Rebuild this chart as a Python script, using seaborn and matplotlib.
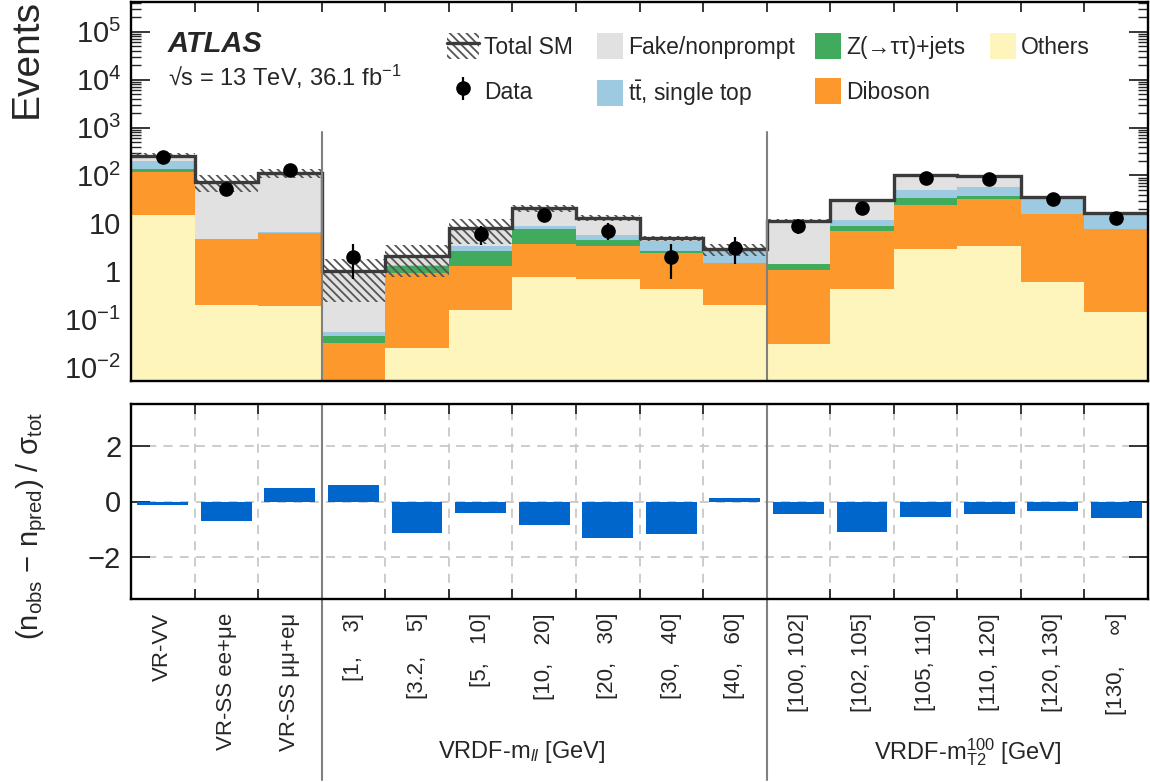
import numpy as np
import matplotlib
matplotlib.use('Agg')
import matplotlib.pyplot as plt
import matplotlib.transforms as mtransforms
from matplotlib.patches import Patch
from matplotlib.lines import Line2D
from matplotlib.ticker import LogLocator, NullFormatter
import seaborn as sns

# ---- data ----
bin_labels = ['VR-VV', 'VR-SS ee+μe', 'VR-SS μμ+eμ',
              '[1,    3]', '[3.2,    5]', '[5,   10]', '[10,   20]', '[20,   30]', '[30,   40]', '[40,   60]',
              '[100, 102]', '[102, 105]', '[105, 110]', '[110, 120]', '[120, 130]', '[130,     ∞]']

others = [15, 0.2, 0.19, 0.003, 0.025, 0.155, 0.77, 0.68, 0.43, 0.2, 0.03, 0.42, 2.97, 3.4, 0.6, 0.14]
diboson = [102, 4.5, 6.2, 0.029, 0.905, 1.155, 2.93, 2.72, 1.97, 1.27, 1.04, 6.48, 21.6, 29.1, 14.9, 7.56]
ztautau = [20, 0.03, 0.05, 0.012, 0.38, 1.39, 3.9, 1.1, 0.25, 0.02, 0.33, 2.1, 8.9, 5.0, 0.1, 0.05]
ttbar = [63, 0.05, 0.1, 0.01, 0.05, 0.7, 1.2, 1.2, 1.55, 1.35, 0.05, 3.0, 16.5, 20.5, 19.3, 8.5]
fakes = [60, 69, 106.5, 0.976, 0.76, 4.7, 11.9, 7.5, 0.7, 0.06, 9.95, 18.5, 53, 40, 0.2, 0.1]
sm_unc = [30, 29, 24, 0.8, 1.35, 4.4, 3.3, 2.0, 0.6, 0.8, 1.2, 2.5, 5, 5, 2, 1.2]

data = [248, 52, 129, 2, 0, 6, 15, 7, 2, 3, 9, 21, 90, 86, 32, 13]
data_err_lo = [16, 7, 11, 1.3, 0, 2.5, 3.8, 2.6, 1.3, 1.6, 2.9, 4.5, 9.5, 9.3, 5.6, 3.6]
data_err_hi = [16, 8, 12, 1.7, 0, 2.8, 4.3, 3.0, 1.7, 2.1, 3.4, 5.0, 10, 9.8, 6.1, 4.1]

significance = [-0.14, -0.71, 0.50, 0.61, -1.14, -0.42, -0.85, -1.32, -1.18, 0.11,
                -0.46, -1.10, -0.56, -0.46, -0.35, -0.60]

ytick_vals = [1e-2, 1e-1, 1, 10, 1e2, 1e3, 1e4, 1e5]
ytick_labels = ['$10^{-2}$', '$10^{-1}$', '1', '10', '$10^{2}$', '$10^{3}$', '$10^{4}$', '$10^{5}$']

group_labels = [r'VRDF-m$_{ll}$ [GeV]', r'VRDF-m$_{\rm T2}^{100}$ [GeV]']

# ---- style ----
sns.set_theme(style='ticks')
plt.rcParams['font.family'] = ['Liberation Sans', 'DejaVu Sans']
plt.rcParams['mathtext.fontset'] = 'custom'
plt.rcParams['mathtext.rm'] = 'Liberation Sans'
plt.rcParams['mathtext.it'] = 'Liberation Sans:italic'
plt.rcParams['mathtext.bf'] = 'Liberation Sans:bold'
plt.rcParams['mathtext.sf'] = 'Liberation Sans'
plt.rcParams['hatch.linewidth'] = 1.3
plt.rcParams['axes.linewidth'] = 1.7
plt.rcParams['axes.edgecolor'] = 'black'

c_others = '#fef5bd'
c_dib = '#fd992c'
c_ztt = '#41ab5d'
c_tt = '#9ecae1'
c_fake = '#e1e1e1'
c_sep = '#808080'

W, H = 1150, 782
fig = plt.figure(figsize=(W / 100, H / 100), dpi=100)
ax = fig.add_axes([131 / W, 1 - 381 / H, 1017 / W, 379 / H])
axr = fig.add_axes([131 / W, 1 - 599 / H, 1017 / W, 195 / H])

n = len(bin_labels)
centers = np.arange(n)
edges = np.arange(n + 1) - 0.5

# ---- stacked backgrounds ----
base = np.full(n, 1e-4)
for vals, col in [(others, c_others), (diboson, c_dib), (ztautau, c_ztt), (ttbar, c_tt), (fakes, c_fake)]:
    top = base + np.array(vals)
    ax.stairs(top, edges, baseline=base, fill=True, color=col, lw=0)
    base = top
total = base - 1e-4
unc = np.array(sm_unc)
ax.stairs(total + unc, edges, baseline=np.clip(total - unc, 1e-4, None), fill=True,
          facecolor='none', edgecolor='#555555', hatch='\\\\\\\\', lw=0)
ax.stairs(total, edges, baseline=None, color='#3a3a3a', lw=2.4)

d = np.array(data, dtype=float)
mask = d > 0
dat = ax.errorbar(centers[mask], d[mask],
                  yerr=[np.array(data_err_lo)[mask], np.array(data_err_hi)[mask]],
                  fmt='o', color='black', ms=9.5, elinewidth=1.6, capsize=0)

ax.set_yscale('log')
ax.set_ylim(5.1e-3, 4.2e5)
ax.set_xlim(-0.5, n - 0.5)
for xs in [2.5, 9.5]:
    ax.axvline(xs, ymax=0.657, color=c_sep, lw=1.5)

ax.set_xticks(edges)
ax.tick_params(axis='x', which='major', direction='in', length=7, width=1.3,
               top=True, bottom=True, labelbottom=False)
ax.tick_params(axis='x', which='minor', length=0)
ax.set_yticks(ytick_vals, ytick_labels)
ax.yaxis.set_minor_locator(LogLocator(base=10, subs=np.arange(2, 10), numticks=20))
ax.yaxis.set_minor_formatter(NullFormatter())
ax.tick_params(axis='y', which='major', direction='in', length=14, width=1.3,
               left=True, right=True, labelsize=21, pad=7)
ax.tick_params(axis='y', which='minor', direction='in', length=7, width=1.0,
               left=True, right=True)

fig.text(27 / W, 1 - 118 / H, 'Events', rotation=90, ha='center', va='bottom', fontsize=28)
fig.text(168 / W, 1 - 52 / H, 'ATLAS', fontsize=21, fontweight='bold', fontstyle='italic')
fig.text(168 / W, 1 - 86 / H, r'√s = 13 TeV, 36.1 fb$^{-1}$', fontsize=17)

# ---- legend (four columns placed by hand) ----
def add_legend(handles, labels, x_px, hl):
    fig.legend(handles, labels, loc='upper left',
               bbox_to_anchor=(x_px / W, 1 - 33 / H), bbox_transform=fig.transFigure,
               frameon=False, fontsize=16.5, handlelength=hl, handleheight=1.35,
               handletextpad=0.2, labelspacing=0.85, borderpad=0, borderaxespad=0)

sm_handle = (Patch(facecolor='none', edgecolor='#555555', hatch='\\\\\\\\', lw=0),
             Line2D([], [], color='#3a3a3a', lw=2.4))
add_legend([sm_handle, dat], ['Total SM', 'Data'], 447, 1.4)
add_legend([Patch(color=c_fake, lw=0), Patch(color=c_tt, lw=0)],
           ['Fake/nonprompt', r't$\bar{\rm t}$, single top'], 597, 1.15)
add_legend([Patch(color=c_ztt, lw=0), Patch(color=c_dib, lw=0)],
           ['Z(→ττ)+jets', 'Diboson'], 815, 1.15)
add_legend([Patch(color=c_others, lw=0)], ['Others'], 990, 1.15)

# ---- significance panel ----
sns.barplot(x=centers, y=significance, ax=axr, color='#0066cc', saturation=1,
            width=0.8, errorbar=None, linewidth=0)
axr.set_xlim(-0.5, n - 0.5)
axr.set_ylim(-3.5, 3.5)
axr.set_xlabel('')
axr.set_ylabel('')
axr.set_xticks(edges, [''] * len(edges))
axr.set_xticks(centers, bin_labels, minor=True, rotation=90)
axr.tick_params(axis='x', which='major', direction='in', length=7, width=1.3,
                top=True, bottom=True, labelbottom=False)
axr.tick_params(axis='x', which='minor', length=0, labelsize=16, pad=10)
axr.set_yticks([-2, 0, 2], ['−2', '0', '2'])
axr.tick_params(axis='y', which='major', direction='in', length=14, width=1.3,
                left=True, right=True, labelsize=21, pad=7)
axr.grid(True, which='major', ls=(0, (5, 4)), color='#c8c8c8', lw=1.3)
axr.set_axisbelow(True)
for xs in [2.5, 9.5]:
    axr.axvline(xs, ymin=-0.93, ymax=1, color=c_sep, lw=1.5, clip_on=False)

fig.text(32 / W, 1 - 526 / H, r'(n$_{\rm obs}$ − n$_{\rm pred}$) / σ$_{\rm tot}$',
         rotation=90, ha='center', va='center', fontsize=21)

trans = mtransforms.blended_transform_factory(axr.transData, fig.transFigure)
axr.text(5.65, 1 - 752 / H, group_labels[0], transform=trans, ha='center', va='center', fontsize=17)
axr.text(12.67, 1 - 752 / H, group_labels[1], transform=trans, ha='center', va='center', fontsize=17)

fig.savefig('out.png', dpi=100)
